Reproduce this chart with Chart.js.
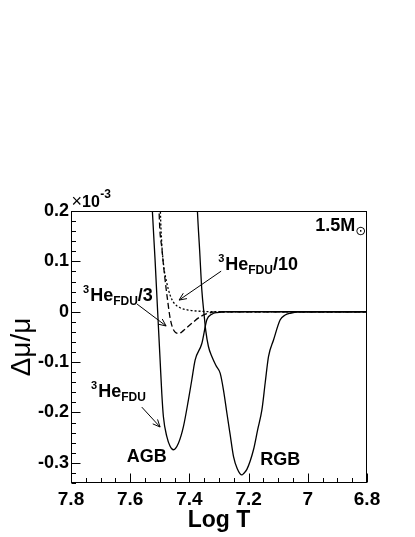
<!DOCTYPE html>
<html>
<head>
  <meta charset="UTF-8">
  <title>Δμ/μ - Log T</title>
  <style>
    html, body {
      margin: 0;
      padding: 0;
      background: #fff;
    }
    .chart-box {
      width: 415px;
      height: 537px;
    }
  </style>
  <script src="https://cdn.jsdelivr.net/npm/chart.js"></script>
</head>
<body>
  <div class="chart-box">
    <canvas id="muChart"></canvas>
  </div>

  <script>
    // values: Log T and Δμ/μ in units of 1e-3
    const agbLogT = [7.5295, 7.5251, 7.5159, 7.5075, 7.4990, 7.4933, 7.4879, 7.4764, 7.4652, 7.4540, 7.4371, 7.4202, 7.4033, 7.3918, 7.3807, 7.3580, 7.3411, 7.3242, 7.3073, 7.2735, 6.8];
    const agbDmu  = [0.26, 0.20, 0.102, 0.003, -0.0955, -0.162, -0.208, -0.2475, -0.267, -0.274, -0.261, -0.228, -0.175, -0.135, -0.096, -0.063, -0.016, -0.005, -0.0016, 0, 0];

    const rgbLogT = [7.3756, 7.3729, 7.3654, 7.3580, 7.3502, 7.3451, 7.3357, 7.3242, 7.3096, 7.2961, 7.2850, 7.2734, 7.2623, 7.2511, 7.2386, 7.2227, 7.2166, 7.2058, 7.1835, 7.1693, 7.1551, 7.1439, 7.1328, 7.1158, 7.0932, 7.0763, 7.0594, 7.0257, 6.8];
    const rgbDmu  = [0.241, 0.200, 0.122, 0.043, -0.0065, -0.036, -0.069, -0.089, -0.1075, -0.122, -0.155, -0.201, -0.244, -0.287, -0.311, -0.324, -0.321, -0.313, -0.274, -0.234, -0.195, -0.141, -0.089, -0.056, -0.016, -0.0065, -0.003, 0, 0];

    // 3He_FDU / 3 (dashed)
    const fdu3LogT = [7.5034, 7.5024, 7.4923, 7.4821, 7.4737, 7.4652, 7.4567, 7.4449, 7.4348, 7.4212, 7.3976, 7.3637, 7.3299, 7.2860, 6.8];
    const fdu3Dmu  = [0.231, 0.200, 0.122, 0.063, 0.023, -0.0125, -0.032, -0.042, -0.043, -0.038, -0.026, -0.010, -0.002, 0, 0];

    // 3He_FDU / 10 (dotted)
    const fdu10LogT = [7.4990, 7.4980, 7.4940, 7.4872, 7.4770, 7.4652, 7.4517, 7.4314, 7.4043, 7.3637, 7.3130, 6.8];
    const fdu10Dmu  = [0.231, 0.200, 0.142, 0.0925, 0.059, 0.033, 0.017, 0.008, 0.0034, 0.001, 0, 0];

    const xTickValues = [7.8, 7.6, 7.4, 7.2, 7.0, 6.8];
    const yTickValues = [-0.3, -0.2, -0.1, 0, 0.1, 0.2];

    const FONT = "'Liberation Sans', Arial, Helvetica, sans-serif";

    // labels and arrows, placed in data units (Log T, Δμ/μ)
    const labels = [
      { x: 7.3029, y: 0.0826, parts: [['3', 'sup'], ['He'], ['FDU', 'sub'], ['/10']] },
      { x: 7.7594, y: 0.0218, parts: [['3', 'sup'], ['He'], ['FDU', 'sub'], ['/3']] },
      { x: 7.7324, y: -0.1683, parts: [['3', 'sup'], ['He'], ['FDU', 'sub']] },
      { x: 7.6116, y: -0.299, parts: [['AGB']] },
      { x: 7.1608, y: -0.3036, parts: [['RGB']] },
      { x: 6.975, y: 0.160, parts: [['1.5M'], ['\u2299', 'sun']] }
    ];
    const arrows = [
      [7.2927, 0.0806, 7.4348, 0.0232],
      [7.5768, 0.0152, 7.4787, -0.0283],
      [7.5609, -0.1893, 7.4990, -0.2289]
    ];

    function pairs(xs, ys) {
      return xs.map((x, i) => ({ x: x, y: ys[i] }));
    }

    function drawParts(ctx, x, y, parts) {
      let cx = x;
      parts.forEach(([text, kind]) => {
        let size = 18, dy = 0, family = FONT, weight = 'bold';
        if (kind === 'sup') { size = 11; dy = -8; }
        if (kind === 'sub') { size = 12; dy = 4; }
        if (kind === 'sun') { size = 13; dy = 4; family = "'DejaVu Sans', sans-serif"; weight = 'normal'; }
        ctx.font = weight + ' ' + size + 'px ' + family;
        ctx.fillText(text, cx, y + dy);
        cx += ctx.measureText(text).width + (kind === 'sup' ? 1 : 0);
      });
    }

    function drawArrow(ctx, x0, y0, x1, y1) {
      const ang = Math.atan2(y1 - y0, x1 - x0);
      const len = 8, spread = 0.42;
      ctx.beginPath();
      ctx.moveTo(x0, y0);
      ctx.lineTo(x1, y1);
      ctx.moveTo(x1 - len * Math.cos(ang - spread), y1 - len * Math.sin(ang - spread));
      ctx.lineTo(x1, y1);
      ctx.lineTo(x1 - len * Math.cos(ang + spread), y1 - len * Math.sin(ang + spread));
      ctx.stroke();
    }

    // frame, inner ticks, exponent and annotations
    const framePlugin = {
      id: 'framePlugin',
      afterDatasetsDraw(chart) {
        const { ctx, chartArea: a, scales: { x, y } } = chart;
        const L = Math.round(a.left) + 0.5, R = Math.round(a.right) - 0.5;
        const T = Math.round(a.top) + 0.5, B = Math.round(a.bottom) - 0.5;
        ctx.save();
        ctx.strokeStyle = '#000';
        ctx.lineWidth = 1;
        ctx.setLineDash([]);
        ctx.strokeRect(L, T, R - L, B - T);

        // x ticks every 0.05, long ones at labelled values
        ctx.beginPath();
        for (let k = 0; k <= 20; k++) {
          const px = Math.round(x.getPixelForValue(6.8 + k * 0.05)) + 0.5;
          const h = (k % 4 === 0) ? 9 : 4.5;
          ctx.moveTo(px, B);
          ctx.lineTo(px, B - h);
        }
        // y ticks every 0.02
        for (let k = -17; k <= 10; k++) {
          const py = Math.round(y.getPixelForValue(k * 0.02)) + 0.5;
          const w = (k % 5 === 0) ? 9 : 4.5;
          ctx.moveTo(L, py);
          ctx.lineTo(L + w, py);
        }
        ctx.stroke();

        ctx.fillStyle = '#000';
        ctx.textBaseline = 'alphabetic';
        ctx.textAlign = 'left';
        // axis exponent
        ctx.font = 'normal 18px ' + FONT;
        ctx.fillText('\u00d7', a.left + 0.5, a.top - 4);
        let ex = a.left + 0.5 + ctx.measureText('\u00d7').width;
        ctx.font = 'bold 16px ' + FONT;
        ctx.fillText('10', ex, a.top - 4);
        ex += ctx.measureText('10').width;
        ctx.font = 'bold 12px ' + FONT;
        ctx.fillText('-3', ex + 0.5, a.top - 13);

        labels.forEach(lb => {
          drawParts(ctx, x.getPixelForValue(lb.x), y.getPixelForValue(lb.y), lb.parts);
        });

        ctx.lineWidth = 1;
        arrows.forEach(([x0, y0, x1, y1]) => {
          drawArrow(ctx, x.getPixelForValue(x0), y.getPixelForValue(y0),
                         x.getPixelForValue(x1), y.getPixelForValue(y1));
        });
        ctx.restore();
      }
    };

    Chart.defaults.color = '#000';
    Chart.defaults.font.family = FONT;

    const lineStyle = {
      borderColor: '#000',
      borderWidth: 1.3,
      pointRadius: 0,
      fill: false,
      cubicInterpolationMode: 'monotone'
    };

    new Chart(document.getElementById('muChart'), {
      type: 'line',
      data: {
        datasets: [
          Object.assign({ label: '3He_FDU/10', data: pairs(fdu10LogT, fdu10Dmu), borderDash: [2, 2] }, lineStyle),
          Object.assign({ label: '3He_FDU/3', data: pairs(fdu3LogT, fdu3Dmu), borderDash: [6, 3] }, lineStyle),
          Object.assign({ label: 'RGB', data: pairs(rgbLogT, rgbDmu) }, lineStyle),
          Object.assign({ label: 'AGB', data: pairs(agbLogT, agbDmu) }, lineStyle)
        ]
      },
      options: {
        responsive: true,
        maintainAspectRatio: false,
        animation: false,
        layout: {
          padding: { left: 0, top: 211, right: 48, bottom: 0 }
        },
        plugins: {
          legend: { display: false },
          tooltip: { enabled: false }
        },
        scales: {
          x: {
            type: 'linear',
            reverse: true,
            min: 6.8,
            max: 7.8,
            afterFit: s => { s.height = 54; },
            afterBuildTicks: s => { s.ticks = xTickValues.map(v => ({ value: v })); },
            grid: { display: false, drawTicks: false },
            border: { display: false },
            ticks: {
              padding: 5,
              maxRotation: 0,
              autoSkip: false,
              font: { size: 19, weight: 'bold' },
              callback: v => String(+v.toFixed(1))
            },
            title: {
              display: true,
              text: 'Log T',
              font: { size: 23, weight: 'bold', lineHeight: 1.2 },
              padding: { top: 0, bottom: 3 }
            }
          },
          y: {
            type: 'linear',
            min: -0.34,
            max: 0.2,
            afterFit: s => { s.width = 71; },
            afterBuildTicks: s => { s.ticks = yTickValues.map(v => ({ value: v })); },
            grid: { display: false, drawTicks: false },
            border: { display: false },
            ticks: {
              padding: 2,
              autoSkip: false,
              font: { size: 18, weight: 'bold' },
              callback: v => (Math.abs(v) < 1e-9 ? '0' : String(+v.toFixed(1)))
            },
            title: {
              display: true,
              text: 'Δμ/μ',
              font: { size: 28, weight: 'normal', lineHeight: 1.2 },
              padding: { top: 5, bottom: 0 }
            }
          }
        }
      },
      plugins: [framePlugin]
    });
  </script>
</body>
</html>
